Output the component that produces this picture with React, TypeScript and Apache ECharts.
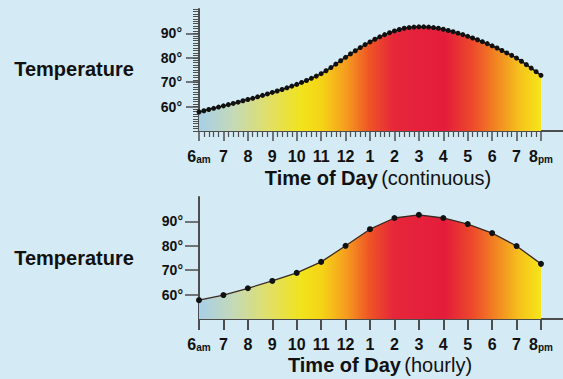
import React, { useEffect, useRef } from "react";
import * as echarts from "echarts";

// ---- data ----
const startHour = 6;
const stepHours = 0.2; // continuous samples every 12 minutes
const continuousTemps = [
  57.8, 58.3, 58.8, 59.3, 59.8,
  60.3, 60.8, 61.3, 61.8, 62.4,
  62.9, 63.4, 64.0, 64.6, 65.2,
  65.8, 66.4, 67.0, 67.7, 68.4,
  69.1, 69.9, 70.7, 71.6, 72.5,
  73.5, 74.7, 76.0, 77.4, 78.8,
  80.2, 81.6, 82.9, 84.2, 85.4,
  86.5, 87.6, 88.6, 89.5, 90.3,
  91.0, 91.6, 92.1, 92.4, 92.6,
  92.7, 92.7, 92.6, 92.4, 92.1,
  91.7, 91.2, 90.7, 90.1, 89.5,
  88.8, 88.1, 87.4, 86.6, 85.8,
  84.9, 84.0, 83.0, 82.0, 81.0,
  79.9, 78.6, 77.2, 75.8, 74.3,
  72.8,
];
const hourlyHours = [6, 7, 8, 9, 10, 11, 12, 13, 14, 15, 16, 17, 18, 19, 20];
const hourlyTemps = [57.7, 59.8, 62.6, 65.6, 68.9, 73.4, 80.0, 86.8, 91.4, 92.7, 91.4, 88.9, 85.2, 79.9, 72.6];
const hourTickLabels = ["6", "7", "8", "9", "10", "11", "12", "1", "2", "3", "4", "5", "6", "7", "8"];
const tempTickValues = [60, 70, 80, 90];

const FONT = "'Liberation Sans', Arial, Helvetica, sans-serif";
const BG = "#d4ebf6";
const AXIS = "#4d4d4d";

const fillGradient = () =>
  new echarts.graphic.LinearGradient(0, 0, 1, 0, [
    { offset: 0, color: "#a7cfe8" },
    { offset: 0.1, color: "#c4d9b8" },
    { offset: 0.2, color: "#e0df6a" },
    { offset: 0.3, color: "#f1e31c" },
    { offset: 0.36, color: "#f6d317" },
    { offset: 0.43, color: "#f59d1e" },
    { offset: 0.5, color: "#ee5326" },
    { offset: 0.57, color: "#e6263a" },
    { offset: 0.72, color: "#e41c3c" },
    { offset: 0.8, color: "#ec4a2b" },
    { offset: 0.87, color: "#f28622" },
    { offset: 0.94, color: "#f5c41c" },
    { offset: 1, color: "#f6e51a" },
  ]);

const hourLabelFmt = (v: number) => {
  const i = hourlyHours.indexOf(Math.round(v));
  if (i < 0 || Math.abs(v - Math.round(v)) > 1e-6) return "";
  const t = hourTickLabels[i];
  if (i === 0) return `{b|${t}}{s|am}`;
  if (i === hourTickLabels.length - 1) return `{b|${t}}{s|pm}`;
  return `{b|${t}}`;
};

const xLabelRich = {
  b: { fontSize: 16, fontWeight: "bold", color: "#111", fontFamily: FONT, verticalAlign: "bottom", lineHeight: 18 },
  s: { fontSize: 10, fontWeight: "bold", color: "#111", fontFamily: FONT, verticalAlign: "bottom", lineHeight: 15 },
};

export default function App() {
  const ref = useRef<HTMLDivElement>(null);
  useEffect(() => {
    document.body.style.margin = "0";
    document.body.style.background = BG;
    const chart = echarts.init(ref.current!, undefined, { renderer: "svg" });
    const grids = [
      { left: 199, top: 9, width: 342, height: 122 },
      { left: 199, top: 197, width: 342, height: 122 },
    ];
    const xBase = (gi: number, minor: boolean) => ({
      type: "value",
      gridIndex: gi,
      min: 6,
      max: 20,
      interval: 1,
      splitLine: { show: false },
      axisLine: { show: true, lineStyle: { color: AXIS, width: 2 } },
      axisTick: { show: true, length: minor ? 10 : 11, lineStyle: { color: AXIS, width: minor ? 1.5 : 2 } },
      minorTick: { show: minor, splitNumber: 5, length: 6, lineStyle: { color: AXIS, width: 1.2 } },
      axisLabel: { margin: 15, formatter: hourLabelFmt, rich: xLabelRich },
    });
    const yLabels = (gi: number, tickLen: number, margin: number) => ({
      type: "value",
      gridIndex: gi,
      position: "left",
      offset: 0,
      min: 50,
      max: 100,
      interval: 10,
      splitLine: { show: false },
      axisLine: { show: false },
      axisTick: { show: true, length: tickLen, customValues: tempTickValues, lineStyle: { color: AXIS, width: 1.5 } },
      axisLabel: {
        margin,
        customValues: tempTickValues,
        formatter: (v: number) => `${v}°`,
        fontSize: 14,
        fontWeight: "bold",
        color: "#111",
        fontFamily: FONT,
      },
    });
    chart.setOption({
      animation: false,
      backgroundColor: BG,
      grid: grids,
      xAxis: [xBase(0, true), xBase(1, false)],
      yAxis: [
        {
          type: "value",
          gridIndex: 0,
          position: "left",
          offset: 0,
          min: 50,
          max: 100,
          interval: 1,
          splitLine: { show: false },
          axisLine: { show: true, lineStyle: { color: AXIS, width: 2 } },
          axisTick: { show: true, length: 6, lineStyle: { color: AXIS, width: 1 } },
          axisLabel: { show: false },
        },
        yLabels(0, 13, 17),
        {
          type: "value",
          gridIndex: 1,
          position: "left",
          offset: 0,
          min: 50,
          max: 100,
          splitLine: { show: false },
          axisLine: { show: true, lineStyle: { color: AXIS, width: 2 } },
          axisTick: { show: false },
          axisLabel: { show: false },
        },
        yLabels(1, 14, 16),
      ],
      series: [
        {
          type: "line",
          xAxisIndex: 0,
          yAxisIndex: 0,
          data: continuousTemps.map((v, i) => [startHour + i * stepHours, v]),
          symbol: "circle",
          symbolSize: 5,
          showSymbol: true,
          itemStyle: { color: "#111" },
          lineStyle: { color: "#111", width: 1.5 },
          areaStyle: { color: fillGradient(), opacity: 1 },
          z: 3,
        },
        {
          type: "line",
          xAxisIndex: 1,
          yAxisIndex: 2,
          data: hourlyHours.map((h, i) => [h, hourlyTemps[i]]),
          symbol: "circle",
          symbolSize: 6,
          showSymbol: true,
          itemStyle: { color: "#111" },
          lineStyle: { color: "#3a2a20", width: 1.3 },
          areaStyle: { color: fillGradient(), opacity: 1 },
          z: 3,
        },
      ],
      graphic: [
        { type: "line", shape: { x1: 541, y1: 131, x2: 563, y2: 131 }, style: { stroke: AXIS, lineWidth: 2 } },
        { type: "line", shape: { x1: 541, y1: 319, x2: 563, y2: 319 }, style: { stroke: AXIS, lineWidth: 2 } },
        {
          type: "text", x: 74, y: 69,
          style: { text: "Temperature", font: `bold 20px ${FONT}`, fill: "#111", align: "center", verticalAlign: "middle" },
        },
        {
          type: "text", x: 74, y: 258,
          style: { text: "Temperature", font: `bold 20px ${FONT}`, fill: "#111", align: "center", verticalAlign: "middle" },
        },
        {
          type: "text", x: 378, y: 178,
          style: {
            text: "{b|Time of Day} {r|(continuous)}",
            align: "center", verticalAlign: "middle",
            rich: {
              b: { fontSize: 20, fontWeight: "bold", fontFamily: FONT, fill: "#111", color: "#111" },
              r: { fontSize: 20, fontFamily: FONT, fill: "#111", color: "#111" },
            },
          },
        },
        {
          type: "text", x: 380, y: 365,
          style: {
            text: "{b|Time of Day} {r|(hourly)}",
            align: "center", verticalAlign: "middle",
            rich: {
              b: { fontSize: 20, fontWeight: "bold", fontFamily: FONT, fill: "#111", color: "#111" },
              r: { fontSize: 20, fontFamily: FONT, fill: "#111", color: "#111" },
            },
          },
        },
      ],
    });
    return () => chart.dispose();
  }, []);
  return <div ref={ref} style={{ width: 563, height: 379, background: BG }} />;
}
